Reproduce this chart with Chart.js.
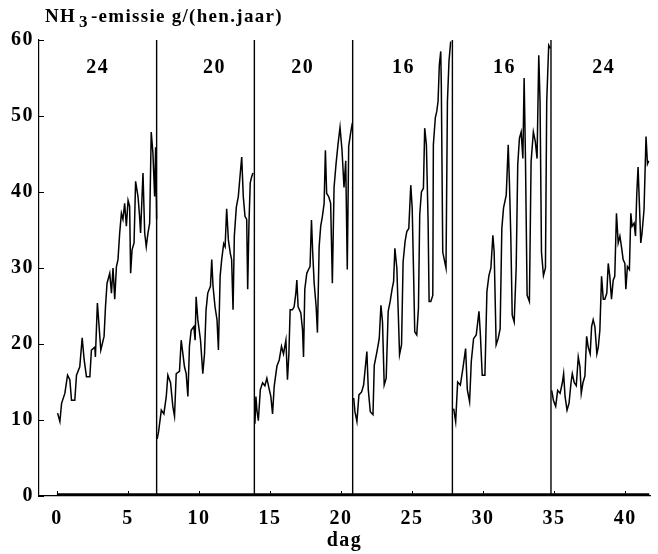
<!DOCTYPE html>
<html>
<head>
<meta charset="utf-8">
<script src="https://cdn.jsdelivr.net/npm/chart.js@4"></script>
<style>
  html, body { margin: 0; padding: 0; background: #fff; }
  #wrap { position: relative; width: 658px; height: 554px; }
  #title {
    position: absolute; left: 45px; top: 5px;
    font: bold 19px 'Liberation Serif', serif; color: #000; white-space: nowrap;
    letter-spacing: 1.3px;
  }
  #title sub { font-size: 17px; vertical-align: -5px; margin: 0 2px 0 3px; }
</style>
</head>
<body>
<div id="wrap">
  <canvas id="c"></canvas>
  <div id="title">NH<sub>3</sub>-emissie g/(hen.jaar)</div>
</div>
<script>
// NH3 emission per period (day, g/(hen.year))
const p1Days = [0.05, 0.21, 0.33, 0.56, 0.75, 0.91, 1.03, 1.26, 1.38, 1.61, 1.78, 1.92, 2.08, 2.32, 2.43, 2.67, 2.71, 2.85, 2.97, 3.09, 3.32, 3.42, 3.53, 3.72, 3.84, 3.95, 4.07, 4.19, 4.30, 4.42, 4.54, 4.65, 4.77, 4.89, 5.01, 5.12, 5.19, 5.29, 5.43, 5.54, 5.71, 5.82, 5.89, 6.06, 6.18, 6.29, 6.41, 6.53, 6.64, 6.76, 6.88, 6.95, 7.02];
const p1Vals = [10.9, 9.8, 12.2, 13.5, 15.9, 15.3, 12.6, 12.6, 15.9, 17.0, 20.8, 17.9, 15.7, 15.7, 19.2, 19.6, 18.3, 25.4, 22.3, 19.2, 21.0, 24.9, 28.0, 29.3, 26.7, 30.0, 25.9, 30.2, 31.1, 34.6, 37.2, 36.4, 38.5, 35.5, 38.9, 38.1, 29.3, 32.4, 33.3, 41.4, 39.4, 36.8, 34.6, 42.5, 34.6, 32.8, 34.6, 35.9, 47.9, 45.1, 39.4, 45.9, 36.4];

const p2Days = [7.06, 7.16, 7.35, 7.53, 7.70, 7.81, 8.00, 8.16, 8.28, 8.40, 8.63, 8.75, 8.98, 9.10, 9.22, 9.33, 9.45, 9.64, 9.73, 9.80, 9.92, 10.11, 10.27, 10.39, 10.50, 10.62, 10.81, 10.90, 10.99, 11.13, 11.27, 11.37, 11.49, 11.60, 11.74, 11.84, 11.95, 12.07, 12.21, 12.30, 12.40, 12.49, 12.63, 12.77, 12.91, 13.01, 13.12, 13.24, 13.36, 13.43, 13.52, 13.61, 13.71, 13.80];
const p2Vals = [7.5, 8.5, 11.3, 10.8, 13.1, 15.9, 14.9, 11.8, 10.5, 16.1, 16.4, 20.5, 17.0, 16.1, 13.1, 19.7, 21.8, 22.3, 20.5, 26.2, 23.2, 20.5, 16.1, 18.7, 24.5, 26.7, 27.6, 31.1, 27.6, 24.9, 23.2, 19.2, 28.9, 31.1, 33.2, 32.8, 37.8, 33.7, 31.9, 31.1, 24.5, 34.2, 38.0, 39.4, 42.5, 44.6, 39.4, 36.8, 36.4, 27.2, 35.9, 41.2, 42.0, 42.5];

const p3Days = [13.94, 14.01, 14.08, 14.18, 14.32, 14.48, 14.64, 14.78, 14.95, 15.06, 15.18, 15.30, 15.49, 15.65, 15.81, 15.95, 16.12, 16.23, 16.33, 16.42, 16.58, 16.70, 16.82, 16.89, 16.98, 17.17, 17.29, 17.36, 17.45, 17.59, 17.71, 17.82, 17.92, 18.01, 18.11, 18.25, 18.34, 18.46, 18.57, 18.69, 18.81, 18.90, 18.99, 19.13, 19.27, 19.39, 19.51, 19.65, 19.79, 19.93, 20.07, 20.21, 20.33, 20.44, 20.54, 20.68, 20.80];
const p3Vals = [9.5, 13.1, 11.3, 9.9, 14.0, 14.9, 14.5, 15.5, 14.0, 13.1, 10.8, 14.5, 17.1, 17.9, 19.7, 18.7, 20.5, 15.3, 18.7, 24.5, 24.5, 24.9, 26.7, 28.4, 24.9, 24.1, 21.9, 18.3, 27.2, 29.3, 29.8, 30.2, 36.3, 31.9, 28.0, 24.9, 21.5, 32.8, 35.5, 36.8, 38.5, 45.5, 39.8, 39.4, 38.5, 28.0, 40.6, 43.7, 46.3, 48.5, 45.5, 40.6, 44.1, 29.8, 46.0, 47.8, 49.1];

const p4Days = [20.89, 20.98, 21.12, 21.26, 21.45, 21.59, 21.75, 21.82, 21.92, 22.06, 22.25, 22.34, 22.53, 22.69, 22.81, 22.92, 23.04, 23.18, 23.32, 23.46, 23.60, 23.70, 23.79, 23.93, 24.02, 24.12, 24.26, 24.37, 24.51, 24.63, 24.77, 24.91, 25.01, 25.10, 25.19, 25.33, 25.45, 25.54, 25.66, 25.80, 25.89, 26.01, 26.13, 26.20, 26.32, 26.46, 26.50, 26.64, 26.74, 26.83, 26.92, 27.02, 27.06, 27.16, 27.30, 27.39, 27.49, 27.60, 27.72];
const p4Vals = [12.9, 11.1, 9.8, 13.3, 13.7, 14.6, 17.7, 19.0, 14.0, 11.1, 10.7, 17.2, 19.0, 20.7, 25.1, 22.9, 14.6, 15.5, 24.3, 25.6, 27.3, 28.2, 32.6, 30.0, 24.7, 18.6, 19.9, 30.8, 33.5, 34.8, 35.2, 40.9, 37.9, 30.0, 21.6, 21.2, 24.7, 37.0, 40.0, 40.5, 48.4, 46.2, 36.1, 25.6, 25.6, 26.4, 46.2, 49.8, 50.6, 51.9, 56.7, 58.5, 54.1, 32.1, 30.8, 30.0, 51.9, 57.2, 59.8];

const p5Days = [27.93, 28.07, 28.21, 28.40, 28.58, 28.77, 28.89, 29.05, 29.17, 29.33, 29.52, 29.71, 29.80, 29.94, 30.13, 30.27, 30.41, 30.55, 30.69, 30.78, 30.92, 31.06, 31.20, 31.32, 31.44, 31.63, 31.77, 31.86, 31.95, 32.05, 32.19, 32.33, 32.44, 32.56, 32.68, 32.80, 32.89, 32.98, 33.10, 33.26, 33.38, 33.54, 33.68, 33.80, 33.92, 34.01, 34.11, 34.25, 34.39, 34.48, 34.62, 34.74];
const p5Vals = [11.5, 9.8, 15.0, 14.6, 16.8, 19.4, 14.0, 12.4, 17.7, 20.7, 21.2, 24.3, 21.6, 15.9, 15.9, 26.9, 29.0, 30.0, 34.3, 32.1, 19.9, 20.7, 22.0, 35.2, 37.9, 39.6, 46.2, 40.9, 34.3, 23.8, 22.9, 30.0, 43.6, 47.1, 47.9, 44.4, 55.0, 44.9, 26.4, 25.6, 44.0, 47.9, 46.6, 44.4, 58.0, 51.9, 32.1, 29.0, 30.0, 51.9, 59.3, 58.9];

const p6Days = [34.83, 34.95, 35.11, 35.25, 35.42, 35.58, 35.67, 35.77, 35.91, 36.05, 36.19, 36.28, 36.42, 36.56, 36.70, 36.82, 36.91, 37.03, 37.17, 37.29, 37.40, 37.54, 37.64, 37.75, 37.87, 38.01, 38.11, 38.22, 38.34, 38.46, 38.57, 38.71, 38.81, 38.92, 39.04, 39.16, 39.27, 39.39, 39.51, 39.63, 39.74, 39.86, 39.98, 40.05, 40.16, 40.30, 40.40, 40.49, 40.63, 40.73, 40.82, 40.91, 41.01, 41.10, 41.19, 41.33, 41.47, 41.57, 41.66];
const p6Vals = [13.9, 12.6, 11.8, 13.9, 13.5, 14.9, 16.1, 13.1, 11.3, 12.2, 14.9, 16.1, 14.9, 14.5, 18.3, 17.0, 13.5, 14.9, 15.8, 21.0, 19.6, 18.7, 22.3, 23.2, 22.3, 18.7, 19.6, 21.8, 28.9, 25.9, 25.9, 26.7, 30.6, 28.9, 25.9, 28.4, 28.9, 37.2, 33.3, 34.2, 32.8, 31.1, 30.6, 27.2, 30.2, 29.8, 37.2, 35.5, 35.9, 34.2, 39.8, 43.3, 38.1, 33.3, 34.6, 37.7, 47.3, 43.7, 44.1];

// period changes (vertical lines) and the number shown above each period
const boundaryDays = [7.02, 13.9, 20.82, 27.84, 34.78];
const periodLabels = ['24', '20', '20', '16', '16', '24'];
const periodLabelDays = [2.88, 11.1, 17.3, 24.4, 31.5, 38.5];
const periodLabelY = 56.3;

// second trace lying on the x-axis
const baseDays = [0, 41.7];
const baseVals = [0.15, 0.15];

const xTicks = [0, 5, 10, 15, 20, 25, 30, 35, 40];
const yTicks = [0, 10, 20, 30, 40, 50, 60];

const FONT = { family: "'Liberation Serif', serif", size: 20, weight: 'bold' };
const LETTER_SPACING = '1.5px';

const zip = (xs, ys) => xs.map((x, i) => ({ x, y: ys[i] }));
const traceStyle = { borderColor: '#000', borderWidth: 1.5, pointRadius: 0, tension: 0, fill: false };

const periods = [
  [p1Days, p1Vals], [p2Days, p2Vals], [p3Days, p3Vals],
  [p4Days, p4Vals], [p5Days, p5Vals], [p6Days, p6Vals]
];

const datasets = periods.map(([d, v]) => ({ ...traceStyle, data: zip(d, v) }));
boundaryDays.forEach(d => datasets.push({
  ...traceStyle, borderWidth: 1.4, data: [{ x: d, y: 0 }, { x: d, y: 60 }]
}));
datasets.push({ ...traceStyle, borderWidth: 3, data: zip(baseDays, baseVals) });

// wider, scan-like lettering for all canvas text
const spacingPlugin = {
  id: 'spacing',
  beforeDraw(chart) { chart.ctx.letterSpacing = LETTER_SPACING; }
};

// inward tick marks + period numbers
const decorPlugin = {
  id: 'decor',
  afterDatasetsDraw(chart) {
    const { ctx, chartArea, scales: { x, y } } = chart;
    ctx.save();
    ctx.strokeStyle = '#000';
    ctx.lineWidth = 1;
    ctx.beginPath();
    yTicks.forEach(v => {
      const py = Math.round(y.getPixelForValue(v)) + 0.5;
      ctx.moveTo(chartArea.left, py);
      ctx.lineTo(chartArea.left + 5, py);
    });
    xTicks.forEach(v => {
      const px = Math.round(x.getPixelForValue(v)) + 0.5;
      ctx.moveTo(px, chartArea.bottom);
      ctx.lineTo(px, chartArea.bottom - 5);
    });
    ctx.stroke();

    ctx.fillStyle = '#000';
    ctx.font = `bold ${FONT.size}px ${FONT.family}`;
    ctx.textAlign = 'center';
    ctx.textBaseline = 'middle';
    periodLabels.forEach((t, i) => {
      ctx.fillText(t, x.getPixelForValue(periodLabelDays[i]), y.getPixelForValue(periodLabelY));
    });
    ctx.restore();
  }
};

new Chart(document.getElementById('c'), {
  type: 'line',
  data: { datasets },
  options: {
    responsive: true,
    maintainAspectRatio: false,
    animation: false,
    layout: { padding: { top: 40, right: 8, left: 0, bottom: 0 } },
    plugins: { legend: { display: false }, tooltip: { enabled: false } },
    scales: {
      x: {
        type: 'linear',
        min: -1.26,
        max: 41.75,
        afterBuildTicks(scale) { scale.ticks = xTicks.map(value => ({ value })); },
        afterFit(scale) { scale.height = 58; },
        ticks: { color: '#000', font: FONT, padding: 11, maxRotation: 0 },
        grid: { display: false, drawTicks: false },
        border: { color: '#000', width: 1.2 },
        title: { display: true, text: 'dag', color: '#000', font: FONT, padding: { top: 0, bottom: 1 } }
      },
      y: {
        min: 0,
        max: 60,
        afterBuildTicks(scale) { scale.ticks = yTicks.map(value => ({ value })); },
        afterFit(scale) { scale.width = 39; },
        ticks: { color: '#000', font: FONT, padding: 5 },
        grid: { display: false, drawTicks: false },
        border: { color: '#000', width: 1.2 }
      }
    }
  },
  plugins: [spacingPlugin, decorPlugin]
});
</script>
</body>
</html>
